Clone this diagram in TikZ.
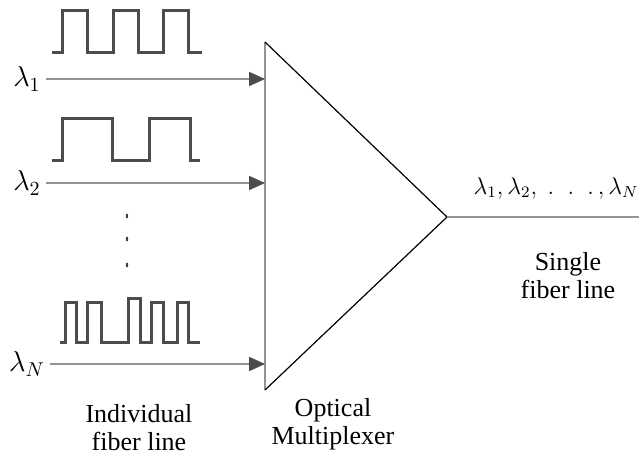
\documentclass[tikz,border=0pt]{standalone}
\usepackage{amsmath}
\usepackage{fontspec}
\setmainfont{Liberation Serif}
\usetikzlibrary{arrows.meta, positioning, calc}

\begin{document}
\begin{tikzpicture}[
    x=0.5pt, y=-0.5pt,
    fiber/.style={draw=gray!85, line width=1pt, -{Triangle[length=8pt, width=7pt, color=black!70]}},
    outline/.style={draw=gray!85, line width=1pt},
    pulse/.style={draw=black!70, line width=1.5pt},
    lam/.style={font=\fontsize{14}{16}\selectfont, inner sep=2.5pt},
    caption/.style={align=center, font=\fontsize{13}{14}\selectfont, inner sep=0pt}
]
\useasboundingbox (0,0) rectangle (639,461);

% Multiplexer
\coordinate (mtop) at (265,42);
\coordinate (mbot) at (265,390);
\coordinate (apex) at (447,217);
\draw[outline] (mtop) -- (mbot);
\draw[black, line width=0.6pt] (mtop) -- (apex) -- (mbot);

% Input ports
\coordinate (in1) at (265,79);
\coordinate (in2) at (265,183);
\coordinate (inN) at (265,364);

% Wavelength labels
\node[lam] (l1) at (27,79) {$\lambda_1$};
\node[lam] (l2) at (27,183) {$\lambda_2$};
\node[lam] (lN) at (27,364) {$\lambda_N$};

% Pulse trains
\draw[pulse] (52,52) -- (62,52) -- (62,10) -- (87,10) -- (87,52) -- (113,52) -- (113,10)
    -- (138,10) -- (138,52) -- (163,52) -- (163,10) -- (188,10) -- (188,52) -- (202,52);
\draw[pulse] (52,160) -- (62,160) -- (62,118) -- (112,118) -- (112,160) -- (149,160)
    -- (149,118) -- (190,118) -- (190,160) -- (200,160);
\draw[pulse] (60,342) -- (65,342) -- (65,302) -- (76,302) -- (76,342) -- (87,342) -- (87,302)
    -- (101,302) -- (101,342) -- (128,342) -- (128,298) -- (140,298) -- (140,342) -- (151,342)
    -- (151,302) -- (163,302) -- (163,342) -- (177,342) -- (177,302) -- (188,302) -- (188,342)
    -- (200,342);

% Vertical dots
\foreach \y in {216,239,265}
    \fill[black!75] (127,\y) ellipse (0.6pt and 1.2pt);

% Output
\coordinate (out) at (639,217);
\node[font=\fontsize{12}{14}\selectfont, inner sep=0pt] (outlab) at (556,188)
    {$\lambda_1,\lambda_2,\;.\;\;.\;\;.\,,\lambda_N$};

% Captions
\node[caption] (indiv) at (139,428) {Individual\\fiber line};
\node[caption] (mux) at (333,424) {Optical\\Multiplexer};
\node[caption] (single) at (568,276) {Single\\fiber line};

% Arrows
\draw[fiber] (l1) -- (in1);
\draw[fiber] (l2) -- (in2);
\draw[fiber] (lN) -- (inN);
\draw[outline] (apex) -- (out);

\end{tikzpicture}
\end{document}
